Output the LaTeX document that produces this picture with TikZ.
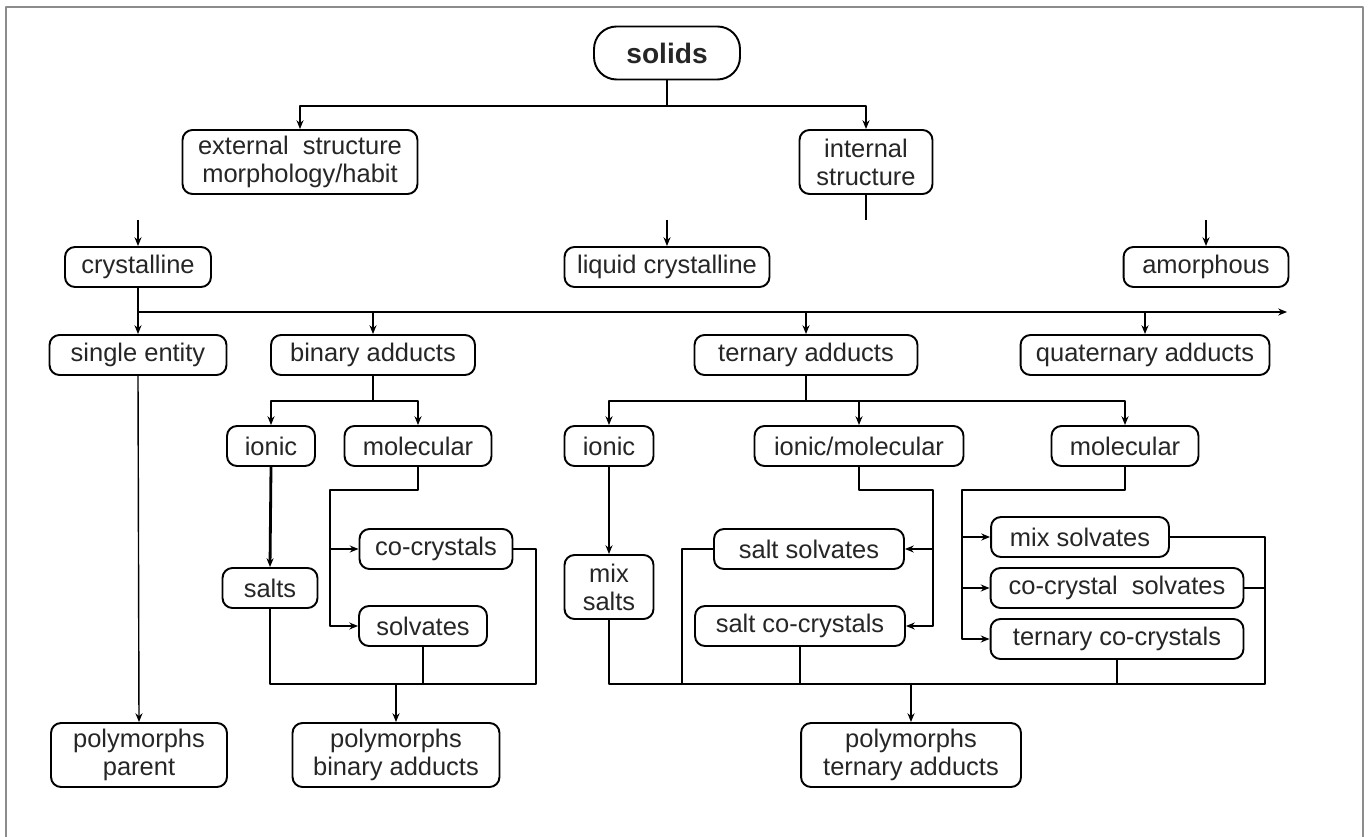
\documentclass[tikz,border=0pt]{standalone}
\usepackage{fontspec}
\setmainfont{Liberation Sans}
\usetikzlibrary{arrows.meta}

\begin{document}
\begin{tikzpicture}[
    x={(0.02cm,0cm)},
    y={(0cm,-0.02cm)},
    >={Stealth[length=5pt,width=4pt]},
    line join=round,
    every node/.style={font=\fontsize{14.5}{16}\selectfont, text=black!85},
    caja/.style={draw, line width=1.1pt, rounded corners=0.2cm, align=center, inner sep=0pt, minimum height=0.8cm},
    doble/.style={caja, minimum height=1.28cm},
    titulo/.style={caja, rounded corners=0.45cm, minimum height=1.06cm, font=\fontsize{16}{18}\selectfont\bfseries},
    linea/.style={line width=0.8pt},
    flecha/.style={->, line width=0.8pt},
    gruesa/.style={->, line width=1.6pt},
    marco/.style={line width=1.2pt, black!45}
]

\useasboundingbox (0,0) rectangle (1368,837);
\fill[white] (0,0) rectangle (1368,837);
\draw[marco] (6,837) -- (6,7) -- (1363,7) -- (1363,837);

\node[titulo, minimum width=2.92cm] (solids) at (667,53) {solids};
\node[doble, minimum width=4.7cm] (ext) at (300,162) {external\ \ structure\\morphology/habit};
\node[doble, minimum width=2.66cm] (int) at (866,162) {internal\\structure};

\node[caja, minimum width=2.92cm] (cryst) at (138,267) {crystalline};
\node[caja, minimum width=4.1cm] (liqcr) at (667,267) {liquid crystalline};
\node[caja, minimum width=3.3cm] (amorph) at (1206,267) {amorphous};

\node[caja, minimum width=3.54cm] (single) at (138,355) {single entity};
\node[caja, minimum width=4.08cm] (binary) at (373,355) {binary adducts};
\node[caja, minimum width=4.46cm] (ternary) at (806,355) {ternary adducts};
\node[caja, minimum width=4.98cm] (quat) at (1145,355) {quaternary adducts};

\node[caja, minimum width=1.76cm] (bionic) at (271,446) {ionic};
\node[caja, minimum width=2.94cm] (bimol) at (418,446) {molecular};
\node[caja, minimum width=1.78cm] (teionic) at (609,446) {ionic};
\node[caja, minimum width=4.18cm] (teionmol) at (859,446) {ionic/molecular};
\node[caja, minimum width=2.94cm] (temol) at (1125,446) {molecular};

\node[caja, minimum width=1.9cm] (salts) at (270,588) {salts};
\node[caja, minimum width=3.06cm] (cocr) at (436,549) {co-crystals};
\node[caja, minimum width=2.56cm] (solv) at (423,626) {solvates};
\node[doble, minimum width=1.78cm] (mixsalts) at (609,587) {mix\\salts};
\node[caja, minimum width=3.8cm] (saltsolv) at (809,549) {salt solvates};
\node[caja, minimum width=4.2cm] (saltcocr) at (800,626) {salt co-crystals};
\node[caja, minimum width=3.56cm] (mixsolv) at (1080,537) {mix solvates};
\node[caja, minimum width=5.06cm] (cocrsolv) at (1117,588) {co-crystal\ \ solvates};
\node[caja, minimum width=5.06cm] (terncocr) at (1117,639) {ternary co-crystals};

\node[doble, minimum width=3.52cm] (polypar) at (139,755) {polymorphs\\parent};
\node[doble, minimum width=4.14cm] (polybin) at (396,755) {polymorphs\\binary adducts};
\node[doble, minimum width=4.4cm] (polyter) at (911,755) {polymorphs\\ternary adducts};

\coordinate (s1) at (667,106);
\coordinate (intend) at (866,220);
\coordinate (c1) at (138,220);
\coordinate (c2) at (667,220);
\coordinate (c3) at (1206,220);
\coordinate (m0) at (138,312);
\coordinate (mend) at (1287,312);
\coordinate (b1) at (373,401);
\coordinate (b2) at (330,490);
\coordinate (bR) at (536,684);
\coordinate (t1) at (806,401);
\coordinate (t2) at (933,490);
\coordinate (t3) at (962,490);
\coordinate (tL) at (682,684);
\coordinate (tR) at (1265,684);

\draw[linea] (solids.south) -- (s1);
\draw[flecha] (s1) -| (ext.north);
\draw[flecha] (s1) -| (int.north);
\draw[linea] (int.south) -- (intend);

\draw[flecha] (c1) -- (cryst.north);
\draw[flecha] (c2) -- (liqcr.north);
\draw[gruesa] (c3) -- (amorph.north);

\draw[flecha] (cryst.south) -- (single.north);
\draw[flecha] (m0) -- (mend);
\draw[flecha] (binary.north |- m0) -- (binary.north);
\draw[flecha] (ternary.north |- m0) -- (ternary.north);
\draw[flecha] (quat.north |- m0) -- (quat.north);
\draw[flecha] (single.south) -- (polypar.north);

\draw[linea] (binary.south) -- (b1);
\draw[flecha] (b1) -| (bionic.north);
\draw[flecha] (b1) -| (bimol.north);
\draw[gruesa] (bionic.south) -- (salts.north);
\draw[flecha] (bimol.south) |- (b2) |- (solv.west);
\draw[flecha] (b2 |- cocr.west) -- (cocr.west);
\draw[linea] (salts.south) |- (bR) |- (cocr.east);
\draw[linea] (solv.south) -- (solv.south |- bR);
\draw[gruesa] (polybin.north |- bR) -- (polybin.north);

\draw[linea] (ternary.south) -- (t1);
\draw[flecha] (t1) -| (teionic.north);
\draw[flecha] (t1) -| (teionmol.north);
\draw[flecha] (t1) -| (temol.north);
\draw[flecha] (teionic.south) -- (mixsalts.north);
\draw[flecha] (teionmol.south) |- (t2) |- (saltcocr.east);
\draw[flecha] (t2 |- saltsolv.east) -- (saltsolv.east);
\draw[flecha] (temol.south) |- (t3) |- (terncocr.west);
\draw[flecha] (t3 |- mixsolv.west) -- (mixsolv.west);
\draw[flecha] (t3 |- cocrsolv.west) -- (cocrsolv.west);
\draw[linea] (mixsalts.south) |- (tR) |- (mixsolv.east);
\draw[linea] (cocrsolv.east) -- (cocrsolv.east -| tR);
\draw[linea] (terncocr.south) -- (terncocr.south |- tR);
\draw[linea] (saltcocr.south) -- (saltcocr.south |- tR);
\draw[linea] (saltsolv.west) -| (tL);
\draw[flecha] (polyter.north |- tR) -- (polyter.north);

\end{tikzpicture}
\end{document}
